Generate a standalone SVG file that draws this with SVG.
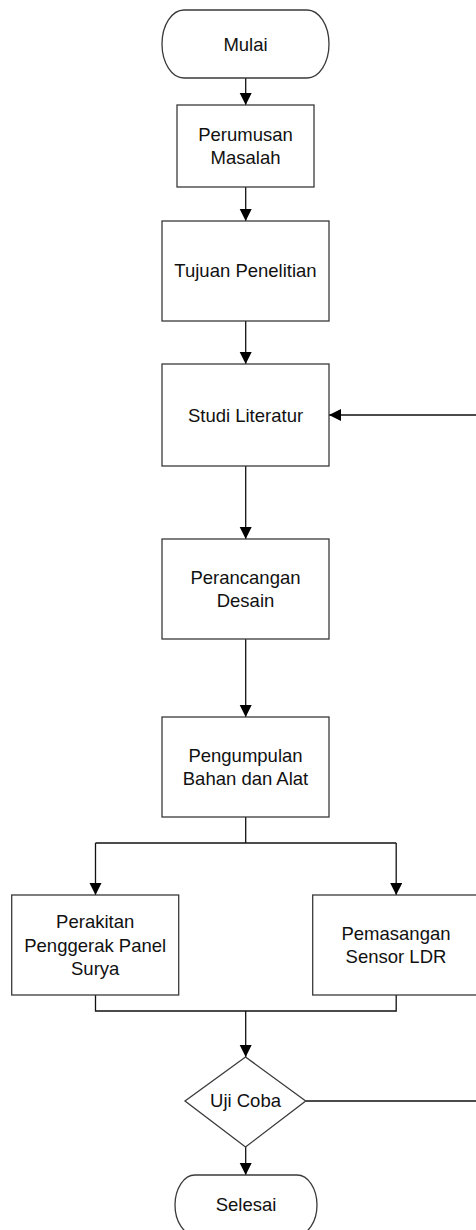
<svg xmlns="http://www.w3.org/2000/svg" width="476" height="1230" viewBox="0 0 476 1230">
<style>
.n{fill:#fff;stroke:#3a3a3a;stroke-width:1.3}
.t{font-family:"Liberation Sans",Arial,sans-serif;font-size:18.5px;fill:#111;text-anchor:middle}
.c{fill:none;stroke:#111;stroke-width:1.3}
</style>
<defs>
<marker id="ah" markerUnits="userSpaceOnUse" markerWidth="12" markerHeight="14" refX="12" refY="6" orient="auto">
<path d="M0,0 L12,6 L0,12 Z" fill="#000"/>
</marker>
</defs>
<rect width="476" height="1230" fill="#fff"/>
<g id="connectors">
<path class="c" d="M245.7,78 V105" marker-end="url(#ah)"/>
<path class="c" d="M245.7,187 V221" marker-end="url(#ah)"/>
<path class="c" d="M245.7,321 V364" marker-end="url(#ah)"/>
<path class="c" d="M245.7,466 V539" marker-end="url(#ah)"/>
<path class="c" d="M245.7,639 V717" marker-end="url(#ah)"/>
<path class="c" d="M245.7,817 V843"/>
<path class="c" d="M95.5,843 H396.2"/>
<path class="c" d="M95.5,843 V895" marker-end="url(#ah)"/>
<path class="c" d="M396.2,843 V895" marker-end="url(#ah)"/>
<path class="c" d="M95.5,995 V1011 H396.2 V995"/>
<path class="c" d="M245.7,1011 V1057" marker-end="url(#ah)"/>
<path class="c" d="M245.7,1147 V1175" marker-end="url(#ah)"/>
<path class="c" d="M305.7,1101 H495 V415 H329" marker-end="url(#ah)"/>
</g>
<g id="mulai">
<rect class="n" x="162" y="10" width="167" height="68" rx="22" ry="34"/>
<text class="t" x="245.5" y="50.7">Mulai</text>
</g>
<g id="perumusan">
<rect class="n" x="177" y="105" width="137" height="82"/>
<text class="t" x="245.5" y="140.5">Perumusan</text>
<text class="t" x="245.5" y="164">Masalah</text>
</g>
<g id="tujuan">
<rect class="n" x="162" y="221" width="167" height="100"/>
<text class="t" x="245.5" y="277">Tujuan Penelitian</text>
</g>
<g id="studi">
<rect class="n" x="162" y="364" width="167" height="102"/>
<text class="t" x="245.5" y="421.5">Studi Literatur</text>
</g>
<g id="perancangan">
<rect class="n" x="162" y="539" width="167" height="100"/>
<text class="t" x="245.5" y="584">Perancangan</text>
<text class="t" x="245.5" y="607.3">Desain</text>
</g>
<g id="pengumpulan">
<rect class="n" x="162" y="717" width="167" height="100"/>
<text class="t" x="245.5" y="761.7">Pengumpulan</text>
<text class="t" x="245.5" y="785">Bahan dan Alat</text>
</g>
<g id="perakitan">
<rect class="n" x="11.7" y="895" width="167" height="100"/>
<text class="t" x="95.2" y="928.3">Perakitan</text>
<text class="t" x="95.2" y="951.7">Penggerak Panel</text>
<text class="t" x="95.2" y="974.5">Surya</text>
</g>
<g id="pemasangan">
<rect class="n" x="312.7" y="895" width="167" height="100"/>
<text class="t" x="396" y="940">Pemasangan</text>
<text class="t" x="396" y="963.3">Sensor LDR</text>
</g>
<g id="ujicoba">
<polygon class="n" points="245.5,1057 305.7,1101 245.5,1147 185,1101"/>
<text class="t" x="245.5" y="1106.7">Uji Coba</text>
</g>
<g id="selesai">
<rect class="n" x="175" y="1175" width="142" height="60" rx="20" ry="30"/>
<text class="t" x="246" y="1211">Selesai</text>
</g>
</svg>
